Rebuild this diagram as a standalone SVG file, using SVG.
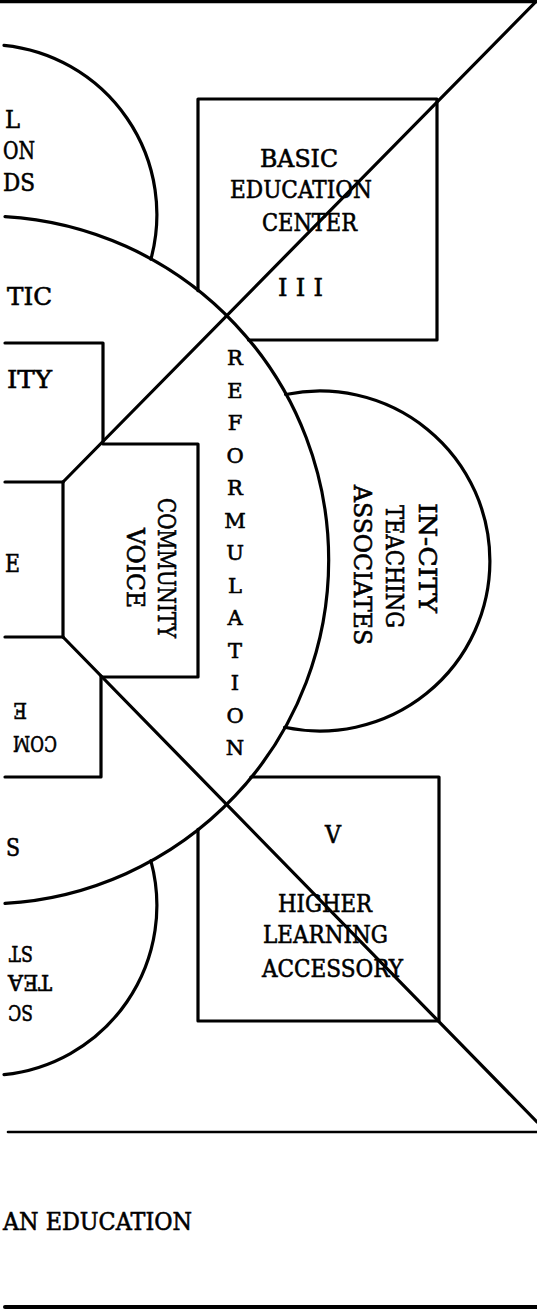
<svg xmlns="http://www.w3.org/2000/svg" width="537" height="1310" viewBox="0 0 537 1310">
<style>
.ln{fill:none;stroke:#000;stroke-width:3.2;stroke-linecap:round;stroke-linejoin:round}
.th{stroke-width:2.6}
.t{font-family:"DejaVu Serif","Liberation Serif",serif;font-size:24px;fill:#000;stroke:#000;stroke-width:0.6}
.r{font-size:21px;text-anchor:middle}
.s{font-size:22px}
</style>
<rect width="537" height="1310" fill="#fff"/>
<g id="frame">
<path class="ln" d="M0 1.5 L537 1.5" style="stroke-width:3.5"/>
<path class="ln th" d="M8 1132 L537 1132"/>
<path class="ln" d="M5 1307 L537 1307" style="stroke-width:4"/>
</g>
<g id="connectors">
<path class="ln" d="M536 1.5 L63 482"/>
<path class="ln" d="M63 637 L537 1122"/>
</g>
<g id="reformulation">
<path class="ln" d="M5 216.6 A344 344 0 0 1 5 903.4"/>
<text class="t r"><tspan x="235" y="365">R</tspan><tspan x="235" y="397.5">E</tspan><tspan x="235" y="430">F</tspan><tspan x="235" y="462.5">O</tspan><tspan x="235" y="495">R</tspan><tspan x="235" y="527.5">M</tspan><tspan x="235" y="560">U</tspan><tspan x="235" y="592.5">L</tspan><tspan x="235" y="625">A</tspan><tspan x="235" y="657.5">T</tspan><tspan x="235" y="690">I</tspan><tspan x="235" y="722.5">O</tspan><tspan x="235" y="755">N</tspan></text>
</g>
<g id="top-left-circle">
<path class="ln" d="M4 45.4 A170 170 0 0 1 150.9 259.2"/>
<text class="t" x="5" y="128" textLength="15" lengthAdjust="spacingAndGlyphs">L</text>
<text class="t" x="3" y="159" textLength="32" lengthAdjust="spacingAndGlyphs">ON</text>
<text class="t" x="3" y="191" textLength="32" lengthAdjust="spacingAndGlyphs">DS</text>
</g>
<g id="left-tic">
<text class="t" x="7" y="305" textLength="45" lengthAdjust="spacingAndGlyphs">TIC</text>
</g>
<g id="left-upper-box">
<path class="ln" d="M5 343 L103 343 L103 442"/>
<path class="ln" d="M5 482 L63 482"/>
<text class="t" x="7" y="388" textLength="45" lengthAdjust="spacingAndGlyphs">ITY</text>
</g>
<g id="left-e">
<text class="t" x="5" y="572" textLength="15" lengthAdjust="spacingAndGlyphs">E</text>
</g>
<g id="community-voice">
<path class="ln" d="M103 444 L198 444 L198 677 L103 677"/>
<path class="ln" d="M63 482 L63 637"/>
<text class="t" transform="rotate(90 158 498)" x="158" y="498" textLength="140" lengthAdjust="spacingAndGlyphs">COMMUNITY</text>
<text class="t" transform="rotate(90 127 528)" x="127" y="528" textLength="80" lengthAdjust="spacingAndGlyphs">VOICE</text>
</g>
<g id="left-lower-box">
<path class="ln" d="M5 637 L63 637"/>
<path class="ln" d="M101 676 L101 777 L5 777"/>
<text class="t s" transform="rotate(180 27 703)" x="27" y="703" textLength="14" lengthAdjust="spacingAndGlyphs">E</text>
<text class="t s" transform="rotate(180 57 736)" x="57" y="736" textLength="44" lengthAdjust="spacingAndGlyphs">COM</text>
</g>
<g id="left-s">
<text class="t" x="6" y="856" textLength="14" lengthAdjust="spacingAndGlyphs">S</text>
</g>
<g id="bottom-left-circle">
<path class="ln" d="M150.9 860.8 A170 170 0 0 1 4 1074.6"/>
<text class="t s" transform="rotate(180 33 946)" x="33" y="946" textLength="24" lengthAdjust="spacingAndGlyphs">ST</text>
<text class="t s" transform="rotate(180 52 975)" x="52" y="975" textLength="44" lengthAdjust="spacingAndGlyphs">TEA</text>
<text class="t s" transform="rotate(180 33 1005)" x="33" y="1005" textLength="25" lengthAdjust="spacingAndGlyphs">SC</text>
</g>
<g id="basic-education-center">
<path class="ln" d="M198 290.7 L198 99 L437 99 L437 340 L248.5 340"/>
<text class="t" x="260" y="167" textLength="78" lengthAdjust="spacingAndGlyphs">BASIC</text>
<text class="t" x="230" y="198" textLength="142" lengthAdjust="spacingAndGlyphs">EDUCATION</text>
<text class="t" x="262" y="231" textLength="95" lengthAdjust="spacingAndGlyphs">CENTER</text>
<text class="t" x="278" y="296" textLength="45" lengthAdjust="spacing">III</text>
</g>
<g id="in-city-teaching-associates">
<path class="ln" d="M285.6 394.5 A170 170 0 1 1 284.6 727.3"/>
<text class="t" transform="rotate(90 419 503)" x="419" y="503" textLength="110" lengthAdjust="spacingAndGlyphs">IN-CITY</text>
<text class="t" transform="rotate(90 386 505)" x="386" y="505" textLength="123" lengthAdjust="spacingAndGlyphs">TEACHING</text>
<text class="t" transform="rotate(90 354 485)" x="354" y="485" textLength="160" lengthAdjust="spacingAndGlyphs">ASSOCIATES</text>
</g>
<g id="higher-learning-accessory">
<path class="ln" d="M198 829.3 L198 1021 L439 1021 L439 777 L250.9 777"/>
<text class="t" x="325" y="843" textLength="16" lengthAdjust="spacingAndGlyphs">V</text>
<text class="t" x="278" y="912" textLength="94" lengthAdjust="spacingAndGlyphs">HIGHER</text>
<text class="t" x="263" y="943" textLength="125" lengthAdjust="spacingAndGlyphs">LEARNING</text>
<text class="t" x="262" y="977" textLength="141" lengthAdjust="spacingAndGlyphs">ACCESSORY</text>
</g>
<g id="caption">
<text class="t" x="3" y="1230" textLength="189" lengthAdjust="spacingAndGlyphs">AN EDUCATION</text>
</g>
</svg>
